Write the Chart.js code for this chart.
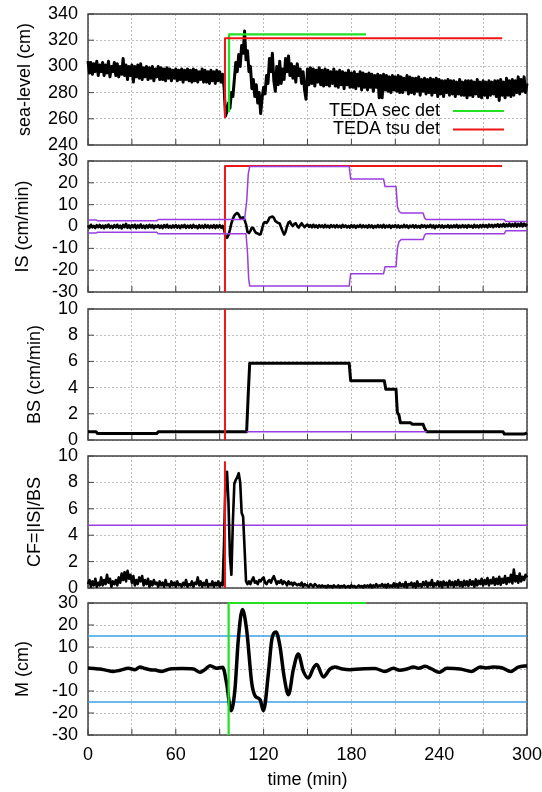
<!DOCTYPE html>
<html>
<head>
<meta charset="utf-8">
<title>TEDA detection</title>
<script src="https://cdn.jsdelivr.net/npm/chart.js@4.4.1/dist/chart.umd.min.js"></script>
<style>
  html, body { margin: 0; padding: 0; background: #fff; }
  #wrap { position: relative; width: 542px; height: 792px; overflow: hidden; }
  #wrap canvas { position: absolute; left: 0; }
</style>
</head>
<body>
<div id="wrap">
  <canvas id="seaChart" width="542" height="155" style="top:2px"></canvas>
  <canvas id="isChart" width="542" height="155" style="top:149px"></canvas>
  <canvas id="bsChart" width="542" height="155" style="top:297px"></canvas>
  <canvas id="cfChart" width="542" height="156" style="top:444px"></canvas>
  <canvas id="mChart" width="542" height="201" style="top:591px"></canvas>
</div>
<script>
// one sample per minute for the noisy series
const minutes = Array.from({ length: 301 }, (_, i) => i);
const timeLabels = [0, 60, 120, 180, 240, 300];

// sea level (cm)
const seaLevel = [
    304, 295, 303, 294, 302, 296, 304, 293, 301, 296,
    303, 293, 301, 295, 304, 292, 300, 296, 303, 293,
    302, 292, 300, 294, 306, 293, 301, 290, 300, 293,
    301, 288, 300, 292, 301, 291, 302, 290, 299, 292,
    300, 290, 299, 291, 300, 289, 298, 292, 300, 290,
    299, 290, 298, 289, 299, 291, 298, 289, 297, 291,
    298, 289, 297, 290, 298, 288, 297, 290, 298, 289,
    297, 288, 298, 289, 297, 288, 296, 290, 298, 288,
    297, 288, 296, 287, 297, 289, 296, 287, 297, 289,
    296, 288, 294, 284, 262, 266, 272, 268, 280, 277,
    290, 303, 296, 309, 300, 316, 310, 327, 305, 312,
    296, 300, 283, 290, 277, 286, 272, 280, 264, 276,
    284, 279, 293, 287, 306, 296, 310, 289, 281, 300,
    286, 304, 287, 298, 290, 306, 296, 308, 293, 302,
    291, 300, 288, 302, 293, 298, 287, 296, 282, 275,
    298, 286, 299, 287, 298, 285, 297, 288, 299, 286,
    297, 285, 298, 286, 297, 285, 296, 287, 298, 285,
    296, 284, 297, 286, 296, 283, 295, 286, 297, 284,
    295, 284, 296, 283, 294, 285, 296, 282, 295, 284,
    294, 282, 295, 284, 294, 281, 293, 284, 294, 276,
    293, 276, 294, 282, 293, 281, 292, 280, 293, 282,
    292, 281, 293, 280, 292, 280, 291, 282, 293, 279,
    292, 280, 291, 279, 291, 281, 292, 278, 290, 281,
    291, 279, 290, 280, 291, 278, 290, 280, 291, 277,
    290, 279, 289, 277, 289, 280, 290, 278, 289, 279,
    289, 277, 288, 279, 290, 278, 288, 278, 289, 276,
    289, 278, 289, 277, 288, 279, 290, 277, 288, 276,
    289, 278, 288, 276, 289, 278, 288, 279, 289, 277,
    289, 274, 290, 278, 288, 276, 291, 278, 289, 277,
    290, 278, 289, 280, 292, 279, 290, 281, 292, 280,
    287
];

// IS (cm/min)
const isRate = [
    0.5, -0.6, 0.8, -0.4, 0.3, -0.7, 0.6, -0.3, 0.7, -0.5,
    0.4, -0.8, 0.5, -0.3, 0.9, -0.5, 0.3, -0.7, 0.6, -0.4,
    0.8, -0.6, 0.4, -0.9, 0.7, -0.3, 1.2, -0.6, 0.5, -0.7,
    0.6, -0.4, 0.8, -0.8, 0.5, -0.5, 0.9, -0.6, 0.4, -0.7,
    0.5, -0.5, 0.7, -0.4, 0.6, -0.8, 0.4, -0.3, 0.6, -0.6,
    0.4, -0.7, 0.6, -0.4, 0.8, -0.5, 0.3, -0.6, 0.5, -0.4,
    0.6, -0.5, 0.4, -0.7, 0.5, -0.3, 0.7, -0.6, 0.4, -0.5,
    0.5, -0.6, 0.7, -0.4, 0.3, -0.8, 0.6, -0.5, 0.4, -0.6,
    0.7, -0.4, 0.5, -0.6, 0.4, -0.5, 0.6, -0.7, 0.5, -0.4,
    0.6, -0.5, 0.3, -1.5, -4.5, -5.2, -4, -1.5, 1.5, 3.5,
    5, 5.8, 6.2, 5.5, 4, 3.8, 4.2, 3, 1, -2.5,
    -3, -2, -0.5, -0.8, -2.2, -3, -3.2, -3.7, -3.5, -1,
    1.5, 2, 1.6, 2.5, 4, 4.3, 4.6, 4, 2.5, 2,
    1.6, 1.4, -0.5, -2.2, -3.7, -2.5, 0, 1.8, 2.3, 1,
    0.2, 1.2, 1.5, 0.2, -0.5, 0.6, 1.5, 0.5, -0.3, 0.4,
    0.9, -0.2, 0.6, -0.4, 0.8, -0.3, 0.5, -0.5, 0.6, -0.2,
    0.5, -0.4, 0.7, -0.3, 0.4, -0.5, 0.6, -0.2, 0.5, -0.4,
    0.6, -0.3, 0.4, -0.5, 0.7, -0.2, 0.5, -0.4, 0.3, -0.5,
    0.6, -0.3, 0.5, -0.6, 0.4, -0.2, 0.7, -0.4, 0.5, -0.3,
    0.4, -0.5, 0.6, -0.3, 0.5, -0.6, 0.3, -0.4, 0.6, -0.3,
    0.5, -0.4, 0.7, -0.5, 0.4, -0.3, 0.6, -0.6, 0.4, -0.2,
    0.6, -0.4, 0.5, -0.5, 0.3, -0.4, 0.7, -0.3, 0.5, -0.6,
    0.4, -0.3, 0.6, -0.5, 0.5, -0.4, 0.3, -0.6, 0.6, -0.2,
    0.5, -0.5, 0.4, -0.3, 0.7, -0.4, 0.5, -0.8, 0.4, -0.3,
    0.6, -0.4, 0.5, -0.5, 0.3, -0.3, 0.6, -0.5, 0.4, -0.4,
    0.5, -0.3, 0.7, -0.5, 0.4, -0.4, 0.6, -0.3, 0.5, -0.5,
    0.6, -0.2, 0.4, -0.5, 0.7, -0.3, 0.5, -0.4, 0.6, -0.3,
    0.8, -0.2, 0.6, -0.4, 0.9, -0.1, 0.7, -0.3, 0.8, 0,
    1, -0.2, 0.9, 0, 1.2, -0.1, 1, 0.1, 1.3, 0,
    1.1, 0.1, 1.4, -0.1, 1.2, 0.2, 1.5, 0, 1.3, 0.3,
    1.2
];

// IS threshold envelope
const isUpTime = [0, 5.5, 6.5, 47, 48, 107, 108.5, 109.5, 110.5, 178.5, 179.5, 202, 203, 210.5, 211.5, 212.5, 214, 229, 230, 231, 284.5, 285.5, 300];
const isUpper = [3.0, 3.0, 2.6, 2.6, 3.2, 3.2, 12, 24, 27.5, 27.5, 21.7, 21.7, 18.3, 18.3, 9, 7, 6.2, 6.2, 4, 3.2, 3.2, 2.3, 2.3];
const isLowTime = [0, 5.5, 6.5, 47, 48, 108, 109, 109.8, 110.5, 178.5, 179.5, 202, 203, 210.5, 211.5, 212.5, 214, 229, 230, 231, 284.5, 285.5, 300];
const isLower = [-3.0, -3.0, -2.6, -2.6, -3.3, -3.3, -12, -24, -27.2, -27.2, -21.6, -21.6, -18.4, -18.4, -9.8, -7, -6, -6, -4, -3.3, -3.3, -2, -2];

// BS (cm/min)
const bsTime = [0, 5.5, 6.5, 47, 48, 108.4, 109.5, 110.5, 178.5, 179.5, 202.5, 203.5, 210.5, 211.4, 212.5, 213.5, 220.5, 221.5, 229, 230, 231.5, 283.6, 284.6, 298, 300];
const bsRate = [0.63, 0.63, 0.5, 0.5, 0.63, 0.63, 3.5, 5.85, 5.85, 4.53, 4.53, 3.87, 3.87, 2.1, 1.9, 1.32, 1.32, 1.2, 1.2, 0.9, 0.63, 0.63, 0.45, 0.45, 0.55];
const bsMinTime = [108.4, 231.5];
const bsMin = [0.63, 0.63];

// CF = |IS|/BS
const cfRatio = [
    0.3, 0.6, 0.1, 0.5, 0.2, 0.7, 0.1, 0.4, 0.2, 0.8,
    0.2, 0.6, 0.3, 1.0, 0.4, 0.7, 0.1, 0.5, 0.3, 0.6,
    0.2, 0.8, 0.4, 1.1, 0.6, 1.2, 0.5, 1.3, 0.7, 1.0,
    0.4, 0.9, 0.2, 0.6, 0.3, 0.8, 0.5, 0.9, 0.2, 0.6,
    0.3, 0.7, 0.1, 0.5, 0.2, 0.6, 0.3, 0.4, 0.1, 0.5,
    0.2, 0.4, 0.1, 0.6, 0.2, 0.3, 0.1, 0.5, 0.2, 0.4,
    0.1, 0.5, 0.2, 0.3, 0.1, 0.4, 0.2, 0.6, 0.1, 0.3,
    0.2, 0.5, 0.1, 0.4, 0.3, 0.8, 0.2, 0.5, 0.1, 0.4,
    0.2, 0.6, 0.1, 0.3, 0.2, 0.5, 0.1, 0.4, 0.2, 0.5,
    0.1, 0.4, 0.2, 3.5, 8.5, 8.8, 6.5, 2.4, 1.0, 5.0,
    7.9, 8.2, 8.4, 8.7, 8.0, 5.7, 5.4, 3.0, 0.5, 0.3,
    0.5, 0.3, 0.6, 0.8, 0.4, 0.5, 0.3, 0.6, 0.5, 0.7,
    0.8, 0.4, 0.3, 0.5, 0.6, 0.4, 0.7, 0.9, 0.6, 0.3,
    0.5, 0.4, 0.6, 0.3, 0.5, 0.4, 0.2, 0.5, 0.3, 0.4,
    0.2, 0.4, 0.3, 0.2, 0.3, 0.2, 0.4, 0.1, 0.3, 0.2,
    0.2, 0.1, 0.3, 0.2, 0.1, 0.3, 0.2, 0.1, 0.2, 0.1,
    0.2, 0.1, 0.15, 0.05, 0.2, 0.1, 0.15, 0.05, 0.2, 0.1,
    0.1, 0.2, 0.05, 0.15, 0.1, 0.2, 0.05, 0.1, 0.15, 0.05,
    0.2, 0.1, 0.15, 0.05, 0.1, 0.2, 0.1, 0.15, 0.05, 0.2,
    0.1, 0.2, 0.1, 0.25, 0.05, 0.2, 0.1, 0.3, 0.1, 0.2,
    0.15, 0.3, 0.1, 0.25, 0.05, 0.3, 0.1, 0.2, 0.1, 0.35,
    0.1, 0.3, 0.05, 0.4, 0.15, 0.3, 0.1, 0.45, 0.05, 0.3,
    0.2, 0.4, 0.1, 0.35, 0.05, 0.5, 0.15, 0.3, 0.1, 0.45,
    0.2, 0.5, 0.1, 0.4, 0.2, 0.6, 0.1, 0.35, 0.2, 0.5,
    0.15, 0.45, 0.05, 0.5, 0.2, 0.4, 0.1, 0.55, 0.2, 0.45,
    0.1, 0.5, 0.2, 0.6, 0.15, 0.45, 0.1, 0.55, 0.2, 0.5,
    0.15, 0.6, 0.25, 0.5, 0.1, 0.65, 0.2, 0.55, 0.3, 0.7,
    0.2, 0.6, 0.3, 0.75, 0.2, 0.6, 0.35, 0.8, 0.25, 0.7,
    0.3, 0.85, 0.25, 0.7, 0.4, 0.9, 0.3, 0.75, 0.45, 1.0,
    0.35, 1.4, 0.5, 0.9, 0.4, 1.1, 0.5, 0.85, 0.6, 1.0,
    0.8
];
const cfThrTime = [0, 300];
const cfThr = [4.75, 4.75];

// M (cm)
const mTime = [0, 4, 8.2, 12, 17.3, 22, 27.6, 32.1, 35.5, 39,
    42.4, 46, 50.4, 56, 64, 72, 76.6, 80, 83.4, 88,
    92, 94.7, 97.7, 100.4, 102.7, 105.5, 108.4, 111.9, 114.1, 117.6,
    119.9, 123.3, 125.6, 128.5, 131.2, 134, 137, 140.3, 143.7, 147.2,
    150.6, 154, 156.3, 160.8, 165.4, 168.8, 174, 179, 186, 196,
    203, 208.7, 213, 218, 222.4, 225.9, 230.3, 234.9, 240, 245.2,
    254.3, 262.3, 268, 272, 277, 282.7, 288.9, 294.1, 300];
const mLevel = [0.4, 0.2, 0, -0.5, -1.1, -0.6, 0.3, -0.3, 0.9, 0.2,
    -0.3, -0.5, -1.1, 0, 0.2, 0, -1.5, -0.2, 1.5, 0.3,
    0.8, -6.4, -19, -9.4, 13.3, 27, 17.9, -6.4, -12.1, -14,
    -19, -1.8, 13.3, 16.8, 10.3, -3.4, -11.7, -0.3, 6.8, -1.1,
    -4.1, 0.4, 2, -3.6, 0, 0.9, 0, -0.3, 0, 0.2,
    -1.1, 0.3, -0.6, 0, 0.9, 0.3, 1.2, 0, -1.5, 0.3,
    0, -1.1, 0.9, 0.5, 0.9, 0.6, -1.1, 0.9, 1.5];
const mBandTime = [0, 300];
const mUpper = [15, 15];
const mLower = [-15, -15];

// detection flags (start of the step, then the flat top)
const tsuDetTime = [93.6, 93.6, 283];
const secDetTime = [96.4, 96.4, 190];
const tsuSea = [260.5, 321.5, 321.5];
const secSea = [265, 324.5, 324.5];
const tsuIS = [-30, 27.7, 27.7];
const tsuBSTime = [93.6, 93.6];
const tsuBS = [0, 10];
const tsuCF = [0, 9.6];
const secMTime = [96.1, 96.1, 190];
const secM = [-30, 30, 30];

const RED = "#ee1515";
const GREEN = "#22e022";
const PURPLE = "#9a3ee2";
const BLUE = "#3aa2e6";

Chart.defaults.font.family = "'Liberation Sans', Arial, sans-serif";
Chart.defaults.font.size = 18;
Chart.defaults.color = "#000";

function series(label, xs, ys, color, width, extra) {
    return Object.assign({
        label: label,
        data: xs.map((x, i) => ({ x: x, y: ys[i] })),
        borderColor: color,
        borderWidth: width,
        borderJoinStyle: "round",
        pointRadius: 0,
        fill: false,
        clip: 4,
    }, extra || {});
}

// keep the plot area exactly where the layout padding puts it
function noScalePadding(s) {
    s.paddingTop = 0;
    s.paddingBottom = 0;
    s.paddingLeft = 0;
    s.paddingRight = 0;
}

// gnuplot style frame with inward ticks, drawn under the data
const frame = {
    id: "frame",
    beforeDatasetsDraw(chart) {
        const { ctx, chartArea: a, scales } = chart;
        ctx.save();
        ctx.strokeStyle = "#444";
        ctx.lineWidth = 1;
        ctx.beginPath();
        scales.x.ticks.forEach(t => {
            const px = scales.x.getPixelForValue(t.value);
            ctx.moveTo(px, a.bottom);
            ctx.lineTo(px, a.bottom - 6);
        });
        scales.y.ticks.forEach(t => {
            const py = scales.y.getPixelForValue(t.value);
            ctx.moveTo(a.left, py);
            ctx.lineTo(a.left + 6, py);
        });
        ctx.stroke();
        ctx.lineWidth = 1.5;
        ctx.strokeRect(a.left, a.top, a.width, a.height);
        ctx.restore();
    },
};

// key inside the sea-level panel
const keyBox = {
    id: "keyBox",
    afterDatasetsDraw(chart) {
        const ctx = chart.ctx;
        const rows = ["TEDA sec det", "TEDA tsu det"];
        ctx.save();
        ctx.font = "18px 'Liberation Sans', Arial, sans-serif";
        ctx.textAlign = "right";
        ctx.textBaseline = "middle";
        rows.forEach((name, i) => {
            const ds = chart.data.datasets.find(d => d.label === name);
            const y = 109 + i * 18.5;
            ctx.fillStyle = "#000";
            ctx.fillText(name, 440, y);
            ctx.strokeStyle = ds.borderColor;
            ctx.lineWidth = 2;
            ctx.beginPath();
            ctx.moveTo(453, y);
            ctx.lineTo(504, y);
            ctx.stroke();
        });
        ctx.restore();
    },
};

function makePanel(id, cfg) {
    const last = !!cfg.last;
    return new Chart(document.getElementById(id), {
        type: "line",
        data: { datasets: cfg.datasets },
        options: {
            responsive: false,
            animation: false,
            events: [],
            layout: { padding: { top: 12, bottom: last ? 0 : 12, left: 0, right: 15 } },
            plugins: { legend: { display: false }, tooltip: { enabled: false } },
            scales: {
                x: {
                    type: "linear",
                    min: 0,
                    max: 300,
                    border: { display: false, dash: [2, 2] },
                    grid: { color: "#bdbdbd", drawTicks: false },
                    ticks: {
                        display: last,
                        stepSize: 30,
                        padding: 9,
                        autoSkip: false,
                        maxRotation: 0,
                        callback: v => (timeLabels.includes(v) ? v : ""),
                    },
                    title: { display: last, text: "time (min)", padding: { top: 0, bottom: 1 } },
                    afterFit: s => { s.height = last ? 57 : 0; noScalePadding(s); },
                },
                y: {
                    min: cfg.min,
                    max: cfg.max,
                    border: { display: false, dash: [2, 2] },
                    grid: { color: "#bdbdbd", drawTicks: false },
                    ticks: { stepSize: cfg.step, padding: 10, autoSkip: false },
                    title: { display: true, text: cfg.title, padding: { top: cfg.titlePad, bottom: 0 } },
                    afterFit: s => { s.width = 88; noScalePadding(s); },
                },
            },
        },
        plugins: [frame].concat(cfg.plugins || []),
    });
}

// first dataset in each list is drawn on top
makePanel("seaChart", {
    min: 240, max: 340, step: 20, title: "sea-level (cm)", titlePad: 14,
    datasets: [
        series("TEDA tsu det", tsuDetTime, tsuSea, RED, 2),
        series("TEDA sec det", secDetTime, secSea, GREEN, 2.2),
        series("sea level", minutes, seaLevel, "#000", 3),
    ],
    plugins: [keyBox],
});

makePanel("isChart", {
    min: -30, max: 30, step: 10, title: "IS (cm/min)", titlePad: 12,
    datasets: [
        series("IS upper", isUpTime, isUpper, PURPLE, 1.5),
        series("IS lower", isLowTime, isLower, PURPLE, 1.5),
        series("TEDA tsu det", tsuDetTime, tsuIS, RED, 2),
        series("IS", minutes, isRate, "#000", 2.6),
    ],
});

makePanel("bsChart", {
    min: 0, max: 10, step: 2, title: "BS (cm/min)", titlePad: 24,
    datasets: [
        series("TEDA tsu det", tsuBSTime, tsuBS, RED, 2),
        series("BS min", bsMinTime, bsMin, PURPLE, 1.5),
        series("BS", bsTime, bsRate, "#000", 3),
    ],
});

makePanel("cfChart", {
    min: 0, max: 10, step: 2, title: "CF=|IS|/BS", titlePad: 24,
    datasets: [
        series("TEDA tsu det", tsuBSTime, tsuCF, RED, 2),
        series("CF", minutes, cfRatio, "#000", 2.6),
        series("CF threshold", cfThrTime, cfThr, PURPLE, 1.5),
    ],
});

makePanel("mChart", {
    min: -30, max: 30, step: 10, title: "M (cm)", titlePad: 12, last: true,
    datasets: [
        series("TEDA sec det", secMTime, secM, GREEN, 2.2),
        series("M", mTime, mLevel, "#000", 3.5, { cubicInterpolationMode: "monotone" }),
        series("M upper", mBandTime, mUpper, BLUE, 1.5),
        series("M lower", mBandTime, mLower, BLUE, 1.5),
    ],
});
</script>
</body>
</html>
